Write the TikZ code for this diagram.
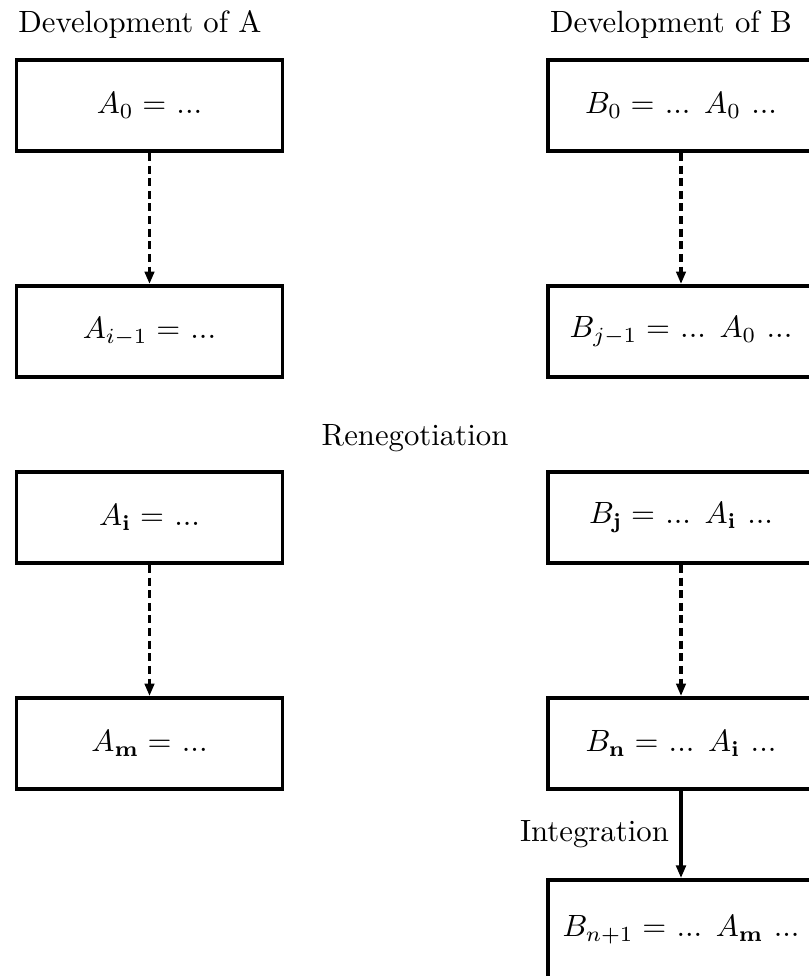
\documentclass[tikz,border=0pt]{standalone}
\usetikzlibrary{arrows.meta}
\begin{document}
\begin{tikzpicture}[x=0.325pt,y=-0.325pt,
  box/.style={draw,line width=1.15pt,minimum width=86.5pt,minimum height=29.7pt,inner sep=0pt},
  devarrow/.style={line width=1pt,dash pattern=on 2.6pt off 1.5pt,-{Triangle[width=3pt,length=4pt]}},
  intarrow/.style={line width=1.25pt,-{Triangle[width=3.1pt,length=4.1pt]}},
  lbl/.style={inner sep=0pt,anchor=base}]
\useasboundingbox (0,0) rectangle (808,976);
\node[lbl] (hA) at (140,33) {Development of A};
\node[lbl] (hB) at (671,33) {Development of B};
\node[lbl] (reneg) at (415,445) {Renegotiation};
\node[box] (A0) at (149.5,105.5) {$A_0 =$ ...};
\node[box] (A1) at (149.5,331.5) {$A_{i-1} =$ ...};
\node[box] (Ai) at (149.5,517.5) {$A_{\mathbf{i}} =$ ...};
\node[box] (Am) at (149.5,743.5) {$A_{\mathbf{m}} =$ ...};
\node[box] (B0) at (681,105.5) {$B_0 =$ ... $A_0$ ...};
\node[box] (B1) at (681,331.5) {$B_{j-1} =$ ... $A_0$ ...};
\node[box] (Bj) at (681,517.5) {$B_{\mathbf{j}} =$ ... $A_{\mathbf{i}}$ ...};
\node[box] (Bn) at (681,743.5) {$B_{\mathbf{n}} =$ ... $A_{\mathbf{i}}$ ...};
\node[box,minimum height=32.6pt] (Bn1) at (681,930) {$B_{n+1} =$ ... $A_{\mathbf{m}}$ ...};
\draw[devarrow] (A0) -- (A1);
\draw[devarrow] (Ai) -- (Am);
\draw[devarrow] (B0) -- (B1);
\draw[devarrow] (Bj) -- (Bn);
\draw[intarrow] (Bn) -- node[left] {Integration} (Bn1);
\end{tikzpicture}
\end{document}
